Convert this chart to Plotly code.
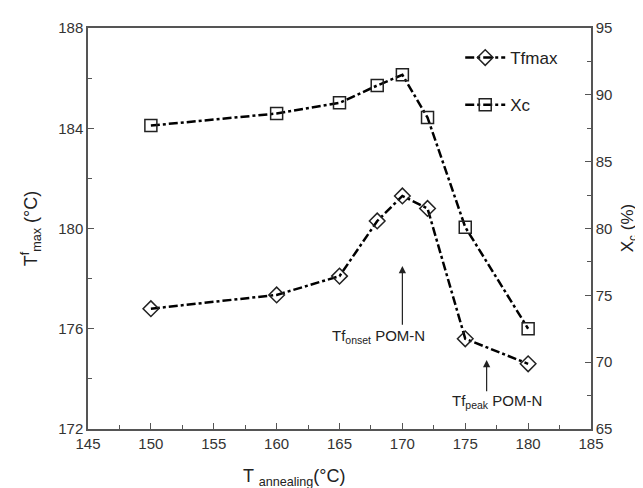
import plotly.graph_objects as go

t_anneal = [150, 160, 165, 168, 170, 172, 175, 180]
tf_max = [176.8, 177.35, 178.1, 180.3, 181.3, 180.8, 175.6, 174.6]
xc = [87.7, 88.6, 89.4, 90.7, 91.5, 88.3, 80.1, 72.5]

font_family = "Liberation Sans, Arial, sans-serif"
axis_col = "#555555"

fig = go.Figure()
fig.add_trace(go.Scatter(
    x=t_anneal, y=tf_max, name="Tfmax", mode="lines+markers", legendgroup="a",
    line=dict(color="black", width=2.5, dash="dashdot"),
    marker=dict(symbol="diamond-open", size=12, color="#222222", line=dict(width=1.5)),
))
fig.add_trace(go.Scatter(
    x=t_anneal, y=xc, name="Xc", mode="lines+markers", yaxis="y2", legendgroup="b",
    line=dict(color="black", width=2.5, dash="dashdot"),
    marker=dict(symbol="square-open", size=12, color="#222222", line=dict(width=1.5)),
))

common_axis = dict(
    showline=True, linecolor=axis_col, linewidth=1.5,
    ticks="inside", ticklen=6, tickcolor=axis_col, tickwidth=1,
    showgrid=False, zeroline=False,
    tickfont=dict(size=15, color="#333333", family=font_family),
)

fig.update_layout(
    width=643, height=488,
    margin=dict(l=80, r=60, t=20, b=67),
    plot_bgcolor="white", paper_bgcolor="white",
    font=dict(family=font_family, color="#222222"),
    xaxis=dict(range=[145, 185], dtick=5, tick0=145, mirror=True,
               minor=dict(dtick=2.5, ticks="inside", ticklen=4, tickcolor=axis_col),
               **common_axis),
    yaxis=dict(range=[172, 188], dtick=4, tick0=172,
               title=dict(text="T<sup>f</sup><sub>max</sub> (°C)", font=dict(size=18), standoff=16),
               minor=dict(dtick=2, ticks="inside", ticklen=4, tickcolor=axis_col),
               **common_axis),
    yaxis2=dict(range=[65, 95], dtick=5, tick0=65, overlaying="y", side="right",
                minor=dict(dtick=2.5, ticks="inside", ticklen=4, tickcolor=axis_col),
                **common_axis),
    legend=dict(x=0.74, y=0.97, xanchor="left", yanchor="top",
                font=dict(size=17, color="#222222"), bgcolor="rgba(0,0,0,0)",
                tracegroupgap=22, itemwidth=40),
    showlegend=True,
)

fig.add_annotation(x=170, y=178.5, ax=170, ay=176.1, axref="x", ayref="y",
                   xref="x", yref="y", text="", showarrow=True,
                   arrowhead=2, arrowsize=1.2, arrowwidth=1.2, arrowcolor="#222222", standoff=0)
fig.add_annotation(x=168.1, y=175.7, xref="x", yref="y",
                   text="Tf<sub>onset</sub> POM-N", showarrow=False,
                   font=dict(size=15, color="#222222"))
fig.add_annotation(x=176.7, y=174.75, ax=176.7, ay=173.45, axref="x", ayref="y",
                   xref="x", yref="y", text="", showarrow=True,
                   arrowhead=2, arrowsize=1.2, arrowwidth=1.2, arrowcolor="#222222", standoff=0)
fig.add_annotation(x=177.5, y=173.1, xref="x", yref="y",
                   text="Tf<sub>peak</sub> POM-N", showarrow=False,
                   font=dict(size=15, color="#222222"))
fig.add_annotation(x=0.41, y=-0.12, xref="paper", yref="paper", yanchor="middle",
                   text="T <sub>annealing</sub>(°C)", showarrow=False,
                   font=dict(size=18, color="#222222"))
fig.add_annotation(x=1.075, y=0.5, xref="paper", yref="paper",
                   xanchor="center", yanchor="middle", textangle=-90,
                   text="X<sub>c</sub> (%)", showarrow=False,
                   font=dict(size=17, color="#222222"))

fig.write_html("out.html")
